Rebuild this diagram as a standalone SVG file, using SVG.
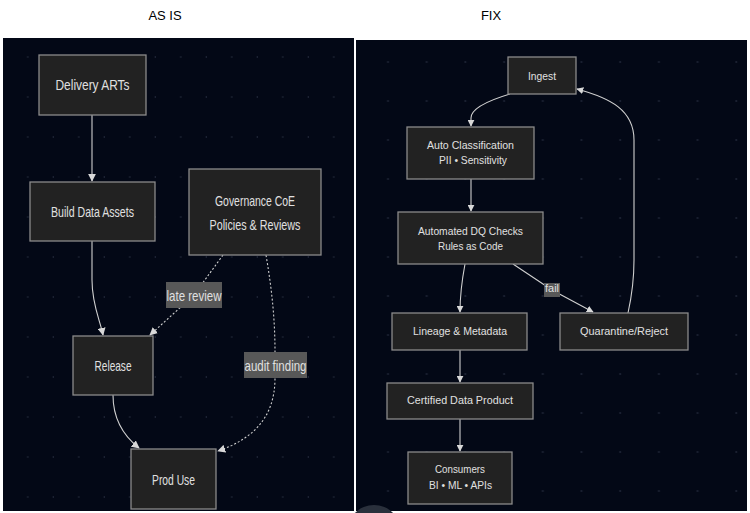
<svg xmlns="http://www.w3.org/2000/svg" width="750" height="513" viewBox="0 0 750 513">
<defs>
<pattern id="dotsL" x="3" y="38" width="25.5" height="40" patternUnits="userSpaceOnUse"><circle cx="25" cy="19" r="1" fill="#1c2233"/></pattern>
<pattern id="dotsR" x="356" y="40" width="38.7" height="39" patternUnits="userSpaceOnUse"><circle cx="32" cy="22" r="1.1" fill="#1c2233"/></pattern>
<marker id="ah" viewBox="0 0 10 10" refX="9" refY="5" markerWidth="8" markerHeight="8" markerUnits="userSpaceOnUse" orient="auto"><path d="M0,0 L10,5 L0,10 z" fill="#d8d8d8"/></marker>
<marker id="ahs" viewBox="0 0 10 10" refX="9" refY="5" markerWidth="7" markerHeight="7" markerUnits="userSpaceOnUse" orient="auto"><path d="M0,0 L10,5 L0,10 z" fill="#d8d8d8"/></marker>
</defs>
<style>
.node rect{fill:#222222;stroke:#8a8a8a;stroke-width:1.3}
.lt{font-family:"Liberation Sans",Arial,sans-serif;font-size:15px;fill:#e0e0e0;text-anchor:middle}
.rt{font-family:"Liberation Sans",Arial,sans-serif;font-size:11px;fill:#e0e0e0;text-anchor:middle}
.edge{fill:none;stroke:#d0d0d0;stroke-width:1.1}
.dash{stroke-dasharray:2,2}
.lbl{fill:#585858}
.title{font-family:"Liberation Sans",Arial,sans-serif;font-size:13px;fill:#000;text-anchor:middle}
</style>
<rect width="750" height="513" fill="#ffffff"/>
<text class="title" x="165" y="20">AS IS</text>
<text class="title" x="491" y="20">FIX</text>
<rect x="3" y="38" width="351" height="473" fill="#030816"/>
<rect x="3" y="38" width="351" height="473" fill="url(#dotsL)"/>
<rect x="356" y="40" width="391" height="471" fill="#030816"/>
<rect x="356" y="40" width="391" height="471" fill="url(#dotsR)"/>
<circle cx="374" cy="532" r="27" fill="#2a303c"/>

<g id="connectors">
<path class="edge" d="M92,115 L92,181" marker-end="url(#ah)"/>
<path class="edge" d="M92,241 L92,280 C92,305 100,320 103,335" marker-end="url(#ah)"/>
<path class="edge dash" d="M223,255 L194,295 L150,335" marker-end="url(#ah)"/>
<path class="edge dash" d="M266,255 C272,290 275,320 275,352 L275,378 C275,420 250,440 218,451" marker-end="url(#ah)"/>
<path class="edge" d="M113,395 C113,420 125,437 139,448" marker-end="url(#ah)"/>
<rect class="lbl" x="166" y="282" width="56" height="26"/>
<text class="lt" x="194" y="301" textLength="55" lengthAdjust="spacingAndGlyphs">late review</text>
<rect class="lbl" x="244" y="352" width="63" height="26"/>
<text class="lt" x="275.5" y="371" textLength="62" lengthAdjust="spacingAndGlyphs">audit finding</text>

<path class="edge" d="M510,94 C490,100 471,108 471,118 L471,126" marker-end="url(#ahs)"/>
<path class="edge" d="M471,179 L471,211" marker-end="url(#ahs)"/>
<path class="edge" d="M465,264 C462,280 460,295 460,312" marker-end="url(#ahs)"/>
<path class="edge" d="M513,264 L552,290 L593,312" marker-end="url(#ahs)"/>
<path class="edge" d="M628,313 C632,295 634,280 634,260 L634,140 C634,110 610,98 577,89" marker-end="url(#ahs)"/>
<path class="edge" d="M460,350 L460,382" marker-end="url(#ahs)"/>
<path class="edge" d="M460,419 L460,451" marker-end="url(#ahs)"/>
<rect class="lbl" x="544" y="283" width="16" height="14"/>
<text class="rt" x="552" y="292" textLength="14" lengthAdjust="spacingAndGlyphs">fail</text>
</g>

<g id="delivery" class="node"><rect x="39" y="55" width="107" height="60"/><text class="lt" x="92.5" y="90" textLength="74" lengthAdjust="spacingAndGlyphs">Delivery ARTs</text></g>
<g id="build" class="node"><rect x="30" y="182" width="125" height="59"/><text class="lt" x="92.5" y="217" textLength="83" lengthAdjust="spacingAndGlyphs">Build Data Assets</text></g>
<g id="governance" class="node"><rect x="189" y="169" width="132" height="86"/><text class="lt" x="255" y="206" textLength="80" lengthAdjust="spacingAndGlyphs">Governance CoE</text><text class="lt" x="255" y="230" textLength="91" lengthAdjust="spacingAndGlyphs">Policies &amp; Reviews</text></g>
<g id="release" class="node"><rect x="73" y="336" width="80" height="59"/><text class="lt" x="113" y="371" textLength="37" lengthAdjust="spacingAndGlyphs">Release</text></g>
<g id="produse" class="node"><rect x="131" y="449" width="85" height="60"/><text class="lt" x="173.5" y="485" textLength="43" lengthAdjust="spacingAndGlyphs">Prod Use</text></g>

<g id="ingest" class="node"><rect x="508" y="57" width="68" height="37"/><text class="rt" x="542" y="80" textLength="28" lengthAdjust="spacingAndGlyphs">Ingest</text></g>
<g id="autoclass" class="node"><rect x="407" y="127" width="127" height="52"/><text class="rt" x="470.5" y="149" textLength="87" lengthAdjust="spacingAndGlyphs">Auto Classification</text><text class="rt" x="473" y="164" textLength="68" lengthAdjust="spacingAndGlyphs">PII • Sensitivity</text></g>
<g id="dq" class="node"><rect x="398" y="212" width="145" height="52"/><text class="rt" x="470.5" y="235" textLength="105" lengthAdjust="spacingAndGlyphs">Automated DQ Checks</text><text class="rt" x="470.5" y="250" textLength="65" lengthAdjust="spacingAndGlyphs">Rules as Code</text></g>
<g id="lineage" class="node"><rect x="392" y="313" width="135" height="37"/><text class="rt" x="460" y="335" textLength="94" lengthAdjust="spacingAndGlyphs">Lineage &amp; Metadata</text></g>
<g id="quarantine" class="node"><rect x="560" y="313" width="128" height="37"/><text class="rt" x="624" y="335" textLength="88" lengthAdjust="spacingAndGlyphs">Quarantine/Reject</text></g>
<g id="certified" class="node"><rect x="387" y="383" width="146" height="36"/><text class="rt" x="460" y="404" textLength="106" lengthAdjust="spacingAndGlyphs">Certified Data Product</text></g>
<g id="consumers" class="node"><rect x="408" y="452" width="104" height="52"/><text class="rt" x="460" y="473" textLength="50" lengthAdjust="spacingAndGlyphs">Consumers</text><text class="rt" x="460.5" y="489" textLength="63" lengthAdjust="spacingAndGlyphs">BI • ML • APIs</text></g>
</svg>
